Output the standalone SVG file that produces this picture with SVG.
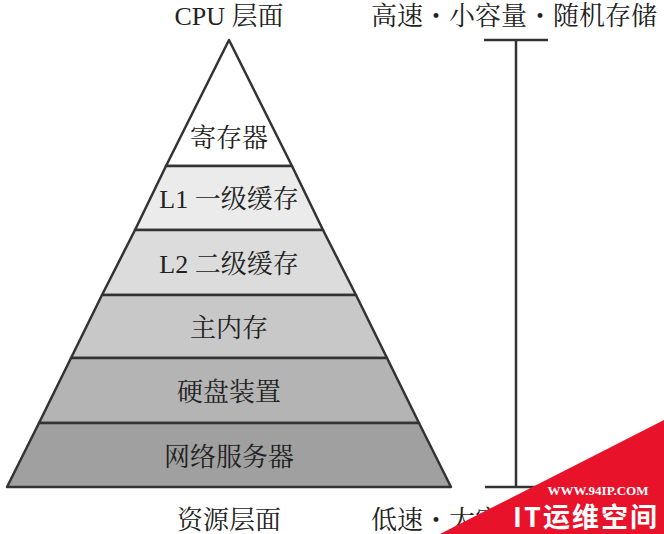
<svg xmlns="http://www.w3.org/2000/svg" width="664" height="534" viewBox="0 0 664 534">
<style>
.t{font-family:"Liberation Serif","Noto Serif CJK SC","Noto Sans CJK SC",serif;font-size:26px;fill:#222;text-anchor:middle}
.l{stroke:#333;stroke-width:2.5;stroke-linejoin:round}
</style>
<rect width="664" height="534" fill="#fff"/>
<g id="n1"><polygon class="l" points="229,40 292,166 166,166" fill="#fff"/><text class="t" x="229" y="147">寄存器</text></g>
<g id="n2"><polygon class="l" points="166,166 292,166 323,230 135,230" fill="#ebebeb"/><text class="t" x="229" y="208">L1 一级缓存</text></g>
<g id="n3"><polygon class="l" points="135,230 323,230 356,295 102,295" fill="#dcdcdc"/><text class="t" x="229" y="273">L2 二级缓存</text></g>
<g id="n4"><polygon class="l" points="102,295 356,295 387,358 71,358" fill="#c8c8c8"/><text class="t" x="229" y="337">主内存</text></g>
<g id="n5"><polygon class="l" points="71,358 387,358 419,423 39,423" fill="#b4b4b4"/><text class="t" x="229" y="401">硬盘装置</text></g>
<g id="n6"><polygon class="l" points="39,423 419,423 451,487 7,487" fill="#a0a0a0"/><text class="t" x="229" y="466">网络服务器</text></g>
<g id="connectors" class="l" fill="none">
<line x1="516" y1="40" x2="516" y2="487"/>
<line x1="484" y1="40" x2="548" y2="40"/>
<line x1="485" y1="487" x2="548" y2="487"/>
</g>
<text class="t" x="229" y="25">CPU 层面</text>
<text class="t" x="514" y="25">高速・小容量・随机存储</text>
<text class="t" x="229" y="529">资源层面</text>
<text class="t" x="514" y="529">低速・大容量・顺序存储</text>
<g id="watermark">
<polygon points="440,534 664,420 664,534" fill="#e8132a"/>
<text x="598" y="495" font-family="Liberation Serif,serif" font-weight="bold" font-size="13" fill="#fff" text-anchor="middle">WWW.94IP.COM</text>
<text x="586" y="527" font-family="Noto Sans CJK SC,sans-serif" font-weight="bold" font-size="27" fill="#fff" text-anchor="middle" letter-spacing="2">IT运维空间</text>
</g>
</svg>
